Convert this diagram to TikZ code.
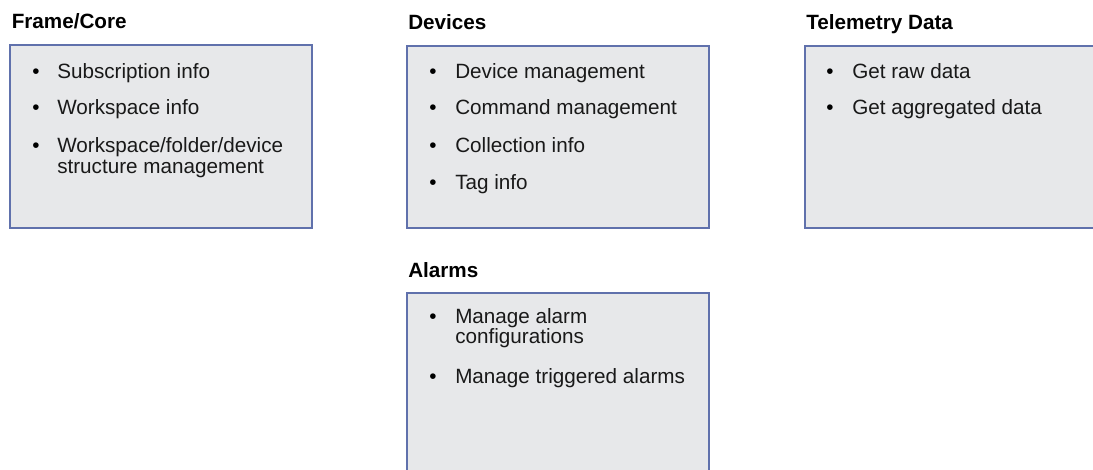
\documentclass[tikz,border=0pt]{standalone}
\usepackage{fontspec}
\setmainfont{Liberation Sans}
\definecolor{panelfill}{RGB}{231,232,234}
\definecolor{panelline}{RGB}{96,113,172}
\tikzset{
  panel/.style={draw=panelline, fill=panelfill, line width=1.1pt},
  head/.style={anchor=base west, inner sep=0pt, font=\fontsize{15.5}{18}\selectfont\bfseries},
  item/.style={anchor=base west, inner sep=0pt, text=black!90, font=\fontsize{15.5}{18}\selectfont},
  dot/.style={anchor=base, inner sep=0pt, font=\fontsize{15.5}{18}\selectfont}
}

\begin{document}
\begin{tikzpicture}[x=0.75pt,y=0.75pt,yscale=-1,xscale=1]

\useasboundingbox (0,0) rectangle (1093,470);
\clip (0,0) rectangle (1093,470);

% panels
\draw [panel] (10,45) rectangle (312,228);
\draw [panel] (407,46) rectangle (709,228);
\draw [panel] (805,46) rectangle (1107,228);
\draw [panel] (407,293) rectangle (709,476);

% headings
\node (coreHd) [head] at (11.5,28.5) {Frame/Core};
\node (devHd) [head] at (408,30) {Devices};
\node (telHd) [head] at (806,30) {Telemetry Data};
\node (almHd) [head] at (408,278) {Alarms};

% Frame/Core
\node (coreD1) [dot] at (36,78.5) {•};
\node (core1) [item] at (57,78.5) {Subscription info};
\node (coreD2) [dot] at (36,115) {•};
\node (core2) [item] at (57,115) {Workspace info};
\node (coreD3) [dot] at (36,153) {•};
\node (core3) [item] at (57,153) {Workspace/folder/device};
\node (core3b) [item] at (57,174) {structure management};

% Devices
\node (devD1) [dot] at (433,78.5) {•};
\node (dev1) [item] at (455,78.5) {Device management};
\node (devD2) [dot] at (433,115) {•};
\node (dev2) [item] at (455,115) {Command management};
\node (devD3) [dot] at (433,152.5) {•};
\node (dev3) [item] at (455,152.5) {Collection info};
\node (devD4) [dot] at (433,190) {•};
\node (dev4) [item] at (455,190) {Tag info};

% Telemetry Data
\node (telD1) [dot] at (830,78.5) {•};
\node (tel1) [item] at (852,78.5) {Get raw data};
\node (telD2) [dot] at (830,115) {•};
\node (tel2) [item] at (852,115) {Get aggregated data};

% Alarms
\node (almD1) [dot] at (433,324) {•};
\node (alm1) [item] at (455,324) {Manage alarm};
\node (alm1b) [item] at (455,344) {configurations};
\node (almD2) [dot] at (433,383) {•};
\node (alm2) [item] at (455,383) {Manage triggered alarms};

\end{tikzpicture}
\end{document}
